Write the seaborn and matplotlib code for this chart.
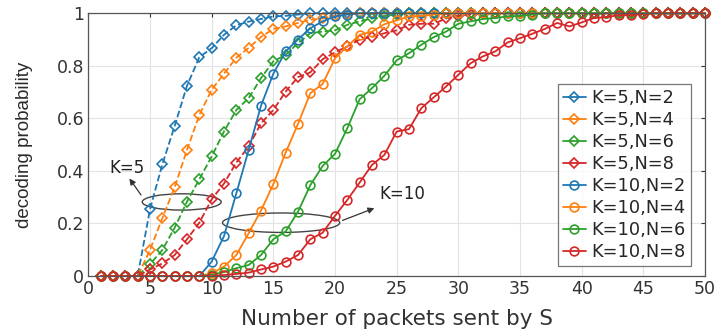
import numpy as np
import pandas as pd
import matplotlib
matplotlib.use("Agg")
import matplotlib.pyplot as plt
import seaborn as sns
from matplotlib.patches import Ellipse

# --- data ---
packets = list(range(1, 51))

k5_n2 = [0, 0, 0, 0, 0.254, 0.425, 0.571, 0.724, 0.833, 0.867, 0.918, 0.954, 0.968, 0.978, 0.988,
         0.99, 0.995] + [1.0] * 33
k5_n4 = [0, 0, 0, 0, 0.099, 0.22, 0.338, 0.48, 0.613, 0.709, 0.77, 0.831, 0.868, 0.91, 0.94,
         0.95, 0.963, 0.975, 0.98, 0.99, 0.995] + [1.0] * 29
k5_n6 = [0, 0, 0, 0, 0.045, 0.099, 0.184, 0.283, 0.368, 0.455, 0.55, 0.632, 0.677, 0.753, 0.817,
         0.842, 0.886, 0.924, 0.93, 0.935, 0.956, 0.969, 0.98, 0.99, 0.995] + [1.0] * 25
k5_n8 = [0, 0, 0, 0, 0.025, 0.048, 0.08, 0.14, 0.203, 0.292, 0.352, 0.432, 0.493, 0.581, 0.632,
         0.702, 0.757, 0.775, 0.825, 0.851, 0.874, 0.9, 0.91, 0.924, 0.935, 0.956, 0.96, 0.96,
         0.98, 0.99, 0.995] + [1.0] * 19
k10_n2 = [0, 0, 0, 0, 0, 0, 0, 0, 0, 0.055, 0.152, 0.315, 0.48, 0.648, 0.77, 0.855, 0.9, 0.943,
          0.969, 0.988, 0.995] + [1.0] * 29
k10_n4 = [0, 0, 0, 0, 0, 0, 0, 0, 0, 0.01, 0.036, 0.08, 0.163, 0.249, 0.35, 0.47, 0.579, 0.696,
          0.731, 0.829, 0.874, 0.918, 0.93, 0.958, 0.973, 0.988, 0.99, 0.995] + [1.0] * 22
k10_n6 = [0, 0, 0, 0, 0, 0, 0, 0, 0, 0.005, 0.015, 0.03, 0.042, 0.08, 0.14, 0.17, 0.245, 0.346,
          0.419, 0.465, 0.563, 0.673, 0.715, 0.762, 0.821, 0.848, 0.88, 0.909, 0.93, 0.96,
          0.969, 0.978, 0.982, 0.988, 0.99, 0.995] + [1.0] * 14
k10_n8 = [0, 0, 0, 0, 0, 0, 0, 0, 0, 0, 0.004, 0.008, 0.013, 0.025, 0.036, 0.055, 0.08, 0.14,
          0.165, 0.229, 0.29, 0.356, 0.423, 0.461, 0.55, 0.559, 0.639, 0.68, 0.721, 0.766,
          0.81, 0.836, 0.855, 0.889, 0.905, 0.922, 0.94, 0.963, 0.95, 0.965, 0.982, 0.985,
          0.993, 0.993, 0.997, 1.0, 1.0, 1.0, 1.0, 1.0]

series = [("K=5,N=2", k5_n2), ("K=5,N=4", k5_n4), ("K=5,N=6", k5_n6), ("K=5,N=8", k5_n8),
          ("K=10,N=2", k10_n2), ("K=10,N=4", k10_n4), ("K=10,N=6", k10_n6), ("K=10,N=8", k10_n8)]

# --- plot ---
sns.set_style("whitegrid")
plt.rcParams["font.family"] = ["DejaVu Sans"]

fig = plt.figure(figsize=(7.18, 3.31), dpi=100)
ax = fig.add_axes([0.123, 0.166, 0.859, 0.794])

palette = sns.color_palette("tab10", 4)
for i, (name, vals) in enumerate(series):
    col = palette[i % 4]
    k5 = i < 4
    sns.lineplot(x=packets, y=vals, ax=ax, color=col, label=name,
                 linestyle="--" if k5 else "-", linewidth=1.3,
                 marker="D" if k5 else "o", markersize=5 if k5 else 6.3,
                 markerfacecolor="none", markeredgecolor=col, markeredgewidth=1.2)
# markers at y=1 and x=50 are drawn whole, over the frame
for ln in ax.lines:
    ln.set_clip_on(False)

ax.set_xlim(0, 50)
ax.set_ylim(0, 1)
ax.set_xticks(range(0, 51, 5))
ax.set_yticks([0, 0.2, 0.4, 0.6, 0.8, 1])
ax.set_yticklabels(["0", "0.2", "0.4", "0.6", "0.8", "1"])
ax.grid(True, color="#e3e3e3", linewidth=0.8)
for s in ax.spines.values():
    s.set_color("#555555")
    s.set_linewidth(0.9)
ax.tick_params(direction="in", top=True, right=True, length=3, colors="#333333",
               labelsize=12.5, pad=3)
ax.set_xlabel("Number of packets sent by S", fontsize=15.5, color="#333333", labelpad=8)
ax.set_ylabel("decoding probability", fontsize=13.5, color="#2a2a2a", labelpad=17,
              family="Liberation Sans")

# annotations
ax.add_patch(Ellipse((7.57, 0.282), 6.4, 0.062, fill=False, edgecolor="#444444", linewidth=1))
ax.add_patch(Ellipse((15.63, 0.203), 9.5, 0.074, fill=False, edgecolor="#444444", linewidth=1))
ax.text(3.1, 0.41, "K=5", fontsize=12, ha="center", va="center", color="#222222")
ax.annotate("", xy=(3.2, 0.38), xytext=(4.4, 0.30),
            arrowprops=dict(arrowstyle="-|>", color="#333333", lw=0.9, mutation_scale=9))
ax.annotate("", xy=(23.4, 0.262), xytext=(20.4, 0.208),
            arrowprops=dict(arrowstyle="-|>", color="#333333", lw=0.9, mutation_scale=9))
ax.text(23.6, 0.312, "K=10", fontsize=12, ha="left", va="center", color="#222222")

leg = ax.legend(loc="lower right", bbox_to_anchor=(0.977, 0.038), fontsize=12.8,
                handlelength=1.3, handletextpad=0.3, labelspacing=0.22, borderpad=0.3,
                borderaxespad=0, frameon=True, fancybox=False, edgecolor="#555555")
leg.get_frame().set_linewidth(0.9)
leg.set_zorder(5)
for h in leg.get_lines():
    h.set_linestyle("-")

fig.savefig("out.png", dpi=100)
